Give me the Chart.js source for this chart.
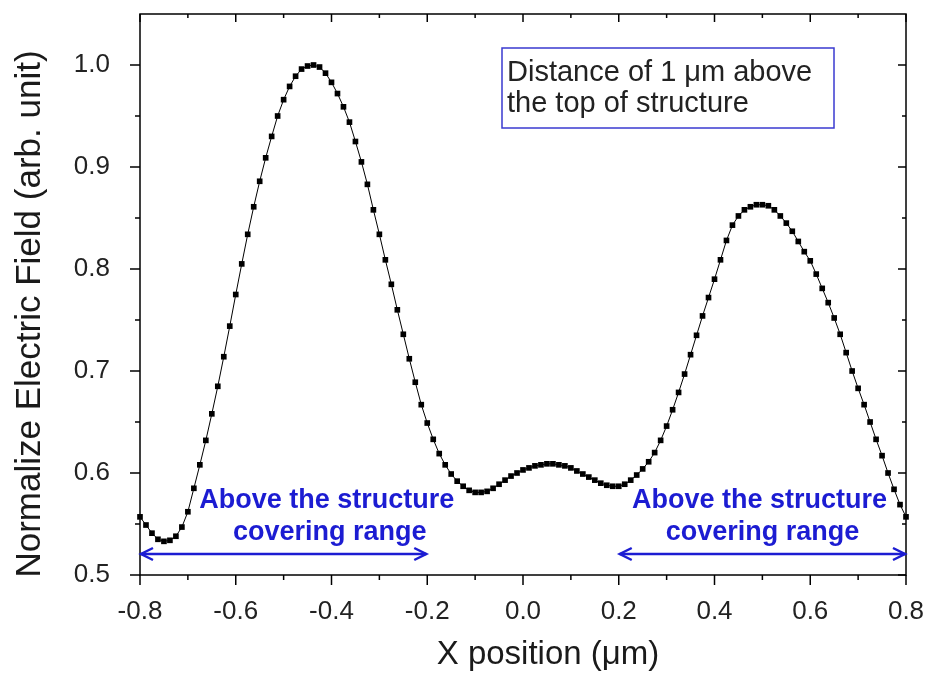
<!DOCTYPE html>
<html><head><meta charset="utf-8">
<script src="https://cdn.jsdelivr.net/npm/chart.js@4.4.0/dist/chart.umd.min.js"></script>
<style>html,body{margin:0;padding:0;background:#fff}#wrap{width:928px;height:675px;position:relative}</style>
</head><body><div id="wrap"><canvas id="c" width="928" height="675"></canvas></div>
<script>
// ---------- data ----------
const xPositions = [
 -0.8000,-0.7875,-0.7750,-0.7625,-0.7500,-0.7375,-0.7250,-0.7125,-0.7000,-0.6875,-0.6750,-0.6625,-0.6500,-0.6375,-0.6250,-0.6125,
 -0.6000,-0.5875,-0.5750,-0.5625,-0.5500,-0.5375,-0.5250,-0.5125,-0.5000,-0.4875,-0.4750,-0.4625,-0.4500,-0.4375,-0.4250,-0.4125,
 -0.4000,-0.3875,-0.3750,-0.3625,-0.3500,-0.3375,-0.3250,-0.3125,-0.3000,-0.2875,-0.2750,-0.2625,-0.2500,-0.2375,-0.2250,-0.2125,
 -0.2000,-0.1875,-0.1750,-0.1625,-0.1500,-0.1375,-0.1250,-0.1125,-0.1000,-0.0875,-0.0750,-0.0625,-0.0500,-0.0375,-0.0250,-0.0125,
  0.0000, 0.0125, 0.0250, 0.0375, 0.0500, 0.0625, 0.0750, 0.0875, 0.1000, 0.1125, 0.1250, 0.1375, 0.1500, 0.1625, 0.1750, 0.1875,
  0.2000, 0.2125, 0.2250, 0.2375, 0.2500, 0.2625, 0.2750, 0.2875, 0.3000, 0.3125, 0.3250, 0.3375, 0.3500, 0.3625, 0.3750, 0.3875,
  0.4000, 0.4125, 0.4250, 0.4375, 0.4500, 0.4625, 0.4750, 0.4875, 0.5000, 0.5125, 0.5250, 0.5375, 0.5500, 0.5625, 0.5750, 0.5875,
  0.6000, 0.6125, 0.6250, 0.6375, 0.6500, 0.6625, 0.6750, 0.6875, 0.7000, 0.7125, 0.7250, 0.7375, 0.7500, 0.7625, 0.7750, 0.7875,
  0.8000
];
const fieldValues = [
 0.557,0.549,0.541,0.535,0.533,0.534,0.538,0.547,0.562,0.585,0.608,0.632,0.658,0.685,0.714,0.744,
 0.775,0.805,0.834,0.861,0.886,0.909,0.930,0.950,0.966,0.979,0.989,0.996,0.999,1.000,0.998,0.992,
 0.983,0.972,0.959,0.944,0.925,0.905,0.883,0.858,0.834,0.809,0.785,0.760,0.736,0.712,0.689,0.667,
 0.649,0.633,0.619,0.608,0.599,0.592,0.587,0.583,0.581,0.581,0.582,0.585,0.589,0.593,0.597,0.600,
 0.603,0.605,0.607,0.608,0.609,0.609,0.608,0.607,0.605,0.602,0.599,0.596,0.593,0.590,0.588,0.587,
 0.587,0.589,0.593,0.598,0.604,0.611,0.620,0.632,0.646,0.662,0.679,0.697,0.716,0.735,0.754,0.772,
 0.790,0.809,0.828,0.843,0.852,0.858,0.861,0.863,0.863,0.862,0.858,0.852,0.845,0.837,0.827,0.817,
 0.808,0.795,0.781,0.767,0.752,0.736,0.718,0.700,0.683,0.667,0.650,0.633,0.617,0.600,0.584,0.569,
 0.557
];
const xTicks = [-0.8,-0.6,-0.4,-0.2,0.0,0.2,0.4,0.6,0.8];
const xMinorTicks = [-0.7,-0.5,-0.3,-0.1,0.1,0.3,0.5,0.7];
const yTicks = [0.5,0.6,0.7,0.8,0.9,1.0];
const yMinorTicks = [0.55,0.65,0.75,0.85,0.95];
const coveringRanges = [[-0.8,-0.2],[0.2,0.8]];
const rangeLabelLines = ['Above the structure','covering range'];
const noteLines = ['Distance of 1 \u03BCm above','the top of structure'];
const xTitle = 'X position (\u03BCm)';
const yTitle = 'Normalize Electric Field (arb. unit)';

// ---------- drawing ----------
const FONT = '"Liberation Sans", Arial, sans-serif';
const BLUE = '#1c1cd2';
const labelCentersX = [-0.41, 0.494]; // placement of the blue labels (x units)

const decorations = {
  id: 'decorations',
  afterDatasetsDraw(chart) {
    const {ctx, chartArea: a, scales: {x, y}} = chart;
    ctx.save();
    // frame
    ctx.strokeStyle = '#000'; ctx.lineWidth = 1.5;
    ctx.strokeRect(a.left, a.top, a.right - a.left, a.bottom - a.top);
    // ticks
    const tk = (x1, y1, x2, y2) => { ctx.beginPath(); ctx.moveTo(x1, y1); ctx.lineTo(x2, y2); ctx.stroke(); };
    xTicks.forEach(v => { const p = x.getPixelForValue(v); tk(p, a.bottom, p, a.bottom + 10); tk(p, a.top, p, a.top + 8); });
    xMinorTicks.forEach(v => { const p = x.getPixelForValue(v); tk(p, a.bottom, p, a.bottom + 5); tk(p, a.top, p, a.top + 4); });
    yTicks.forEach(v => { const p = y.getPixelForValue(v); tk(a.left - 10, p, a.left, p); tk(a.right - 8, p, a.right, p); });
    yMinorTicks.forEach(v => { const p = y.getPixelForValue(v); tk(a.left - 5, p, a.left, p); tk(a.right - 4, p, a.right, p); });

    // covering range annotations
    ctx.strokeStyle = BLUE; ctx.fillStyle = BLUE; ctx.lineWidth = 2.5;
    ctx.font = 'bold 27px ' + FONT; ctx.textAlign = 'center'; ctx.textBaseline = 'alphabetic';
    coveringRanges.forEach((r, i) => {
      const x1 = x.getPixelForValue(r[0]) + 1, x2 = x.getPixelForValue(r[1]) - 1;
      const ay = a.bottom - 21;
      tk(x1, ay, x2, ay);
      ctx.beginPath(); ctx.moveTo(x1 + 12, ay - 6); ctx.lineTo(x1, ay); ctx.lineTo(x1 + 12, ay + 6); ctx.stroke();
      ctx.beginPath(); ctx.moveTo(x2 - 12, ay - 6); ctx.lineTo(x2, ay); ctx.lineTo(x2 - 12, ay + 6); ctx.stroke();
      const cx = x.getPixelForValue(labelCentersX[i]);
      ctx.fillText(rangeLabelLines[0], cx, a.bottom - 67);
      ctx.fillText(rangeLabelLines[1], cx + 3, a.bottom - 35);
    });

    // note box
    ctx.strokeStyle = '#3a3ad0'; ctx.lineWidth = 1.5;
    ctx.fillStyle = '#fff';
    ctx.fillRect(502, 48, 332, 80);
    ctx.strokeRect(502, 48, 332, 80);
    ctx.fillStyle = '#222'; ctx.font = '29px ' + FONT; ctx.textAlign = 'left';
    ctx.fillText(noteLines[0], 507, 81);
    ctx.fillText(noteLines[1], 507, 112);

    // axis titles
    ctx.fillStyle = '#1a1a1a';
    ctx.font = '33px ' + FONT; ctx.textAlign = 'center';
    ctx.fillText(xTitle, 548, 664);
    ctx.translate(40, 314); ctx.rotate(-Math.PI / 2);
    ctx.font = '35px ' + FONT;
    ctx.fillText(yTitle, 0, 0);
    ctx.restore();
  }
};

const zeroPad = s => { s.paddingLeft = 0; s.paddingRight = 0; s.paddingTop = 0; s.paddingBottom = 0; };

new Chart(document.getElementById('c'), {
  type: 'line',
  data: {
    datasets: [{
      data: xPositions.map((v, i) => ({x: v, y: fieldValues[i]})),
      borderColor: '#000', borderWidth: 1, backgroundColor: '#000',
      pointStyle: 'rect', pointRadius: 4, pointBorderWidth: 0, pointBackgroundColor: '#000',
      tension: 0, clip: 4
    }]
  },
  options: {
    responsive: false, animation: false, devicePixelRatio: 1,
    layout: {padding: {left: 0, top: 14, right: 22, bottom: 0}},
    plugins: {legend: {display: false}, tooltip: {enabled: false}},
    scales: {
      x: {
        type: 'linear', min: -0.8, max: 0.8,
        grid: {display: false}, border: {display: false},
        afterBuildTicks: s => { s.ticks = xTicks.map(v => ({value: v})); },
        afterFit: s => { s.height = 100; zeroPad(s); },
        ticks: {color: '#222', font: {family: FONT, size: 26}, padding: 13, maxRotation: 0,
                callback: v => Number(v).toFixed(1)}
      },
      y: {
        type: 'linear', min: 0.5, max: 1.05,
        grid: {display: false}, border: {display: false},
        afterBuildTicks: s => { s.ticks = yTicks.map(v => ({value: v})); },
        afterFit: s => { s.width = 140; zeroPad(s); },
        ticks: {color: '#222', font: {family: FONT, size: 26}, padding: 22,
                callback: v => Number(v).toFixed(1)}
      }
    }
  },
  plugins: [decorations]
});
</script>
</body></html>
